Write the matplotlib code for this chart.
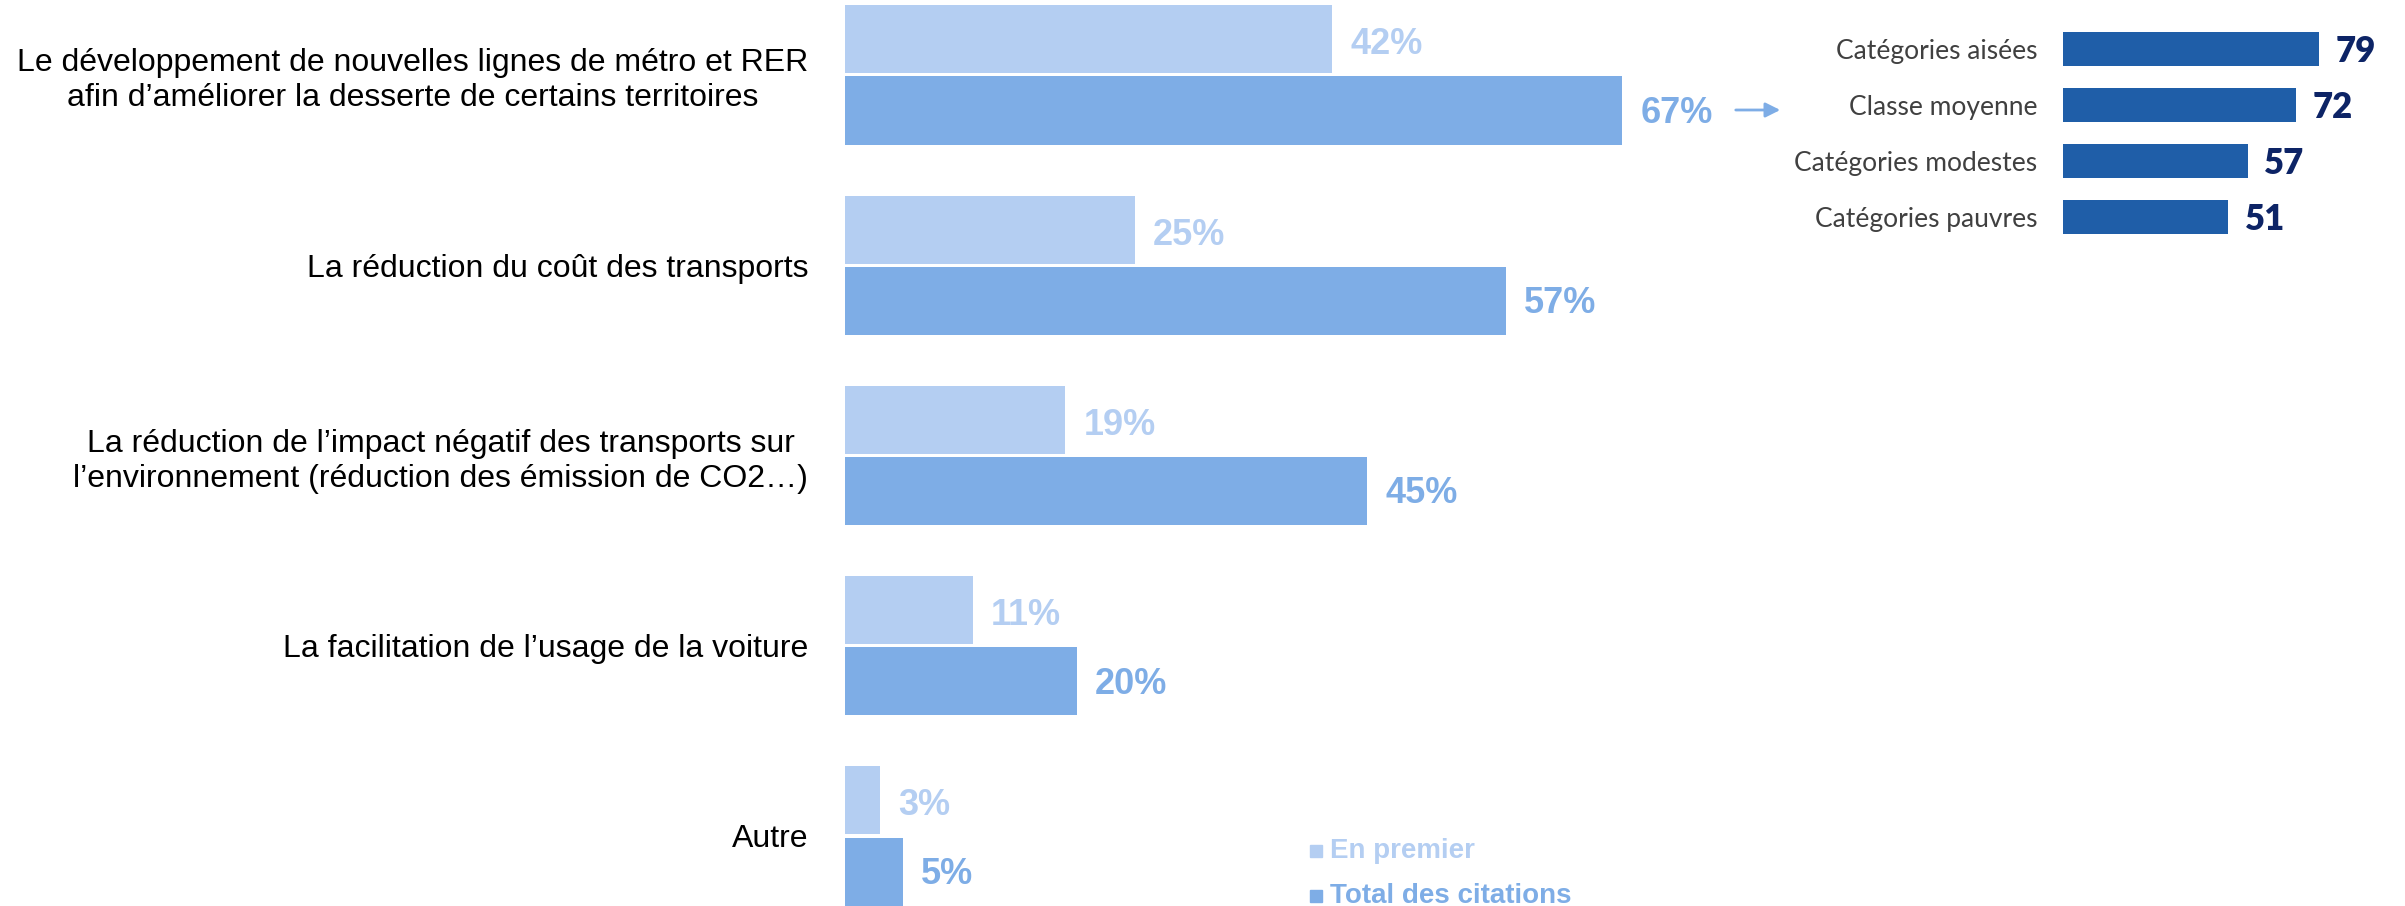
import matplotlib
matplotlib.use("Agg")
import matplotlib.pyplot as plt
from matplotlib.patches import Rectangle

# data
categories = [
    "Le développement de nouvelles lignes de métro et RER\nafin d’améliorer la desserte de certains territoires",
    "La réduction du coût des transports",
    "La réduction de l’impact négatif des transports sur\nl’environnement (réduction des émission de CO2…)",
    "La facilitation de l’usage de la voiture",
    "Autre",
]
en_premier = [42, 25, 19, 11, 3]
total_citations = [67, 57, 45, 20, 5]

social = ["Catégories aisées", "Classe moyenne", "Catégories modestes", "Catégories pauvres"]
social_values = [79, 72, 57, 51]

light = "#B4CEF2"
dark = "#7EADE6"
inset_blue = "#1F5EA8"
navy = "#0D2466"

W, H = 2405, 906
fig = plt.figure(figsize=(W / 100, H / 100), dpi=100)

# main chart
ax = fig.add_axes([845 / W, 0, 1160 / W, 1])
ax.set_facecolor("none")
y = list(range(len(categories)))
off = 0.187
h = 0.358
ax.barh([i - off for i in y], en_premier, height=h, color=light)
ax.barh([i + off for i in y], total_citations, height=h, color=dark)
for i in y:
    ax.annotate(f"{en_premier[i]}%", (en_premier[i], i - off), xytext=(13, -4),
                textcoords="offset points", va="center", ha="left", color=light,
                fontsize=26, fontweight="bold", family="Liberation Sans")
    ax.annotate(f"{total_citations[i]}%", (total_citations[i], i + off), xytext=(13, -2),
                textcoords="offset points", va="center", ha="left", color=dark,
                fontsize=26, fontweight="bold", family="Liberation Sans")
ax.set_xlim(0, 100)
ax.set_ylim(4.368, -0.394)
ax.set_yticks(y, categories, fontsize=23, family="Liberation Sans")
for lbl in ax.get_yticklabels():
    lbl.set_multialignment("center")
ax.tick_params(axis="y", length=0, pad=26.6)
ax.set_xticks([])
for s in ax.spines.values():
    s.set_visible(False)

# inset chart by social category
ax2 = fig.add_axes([2063 / W, 1 - 300 / H, 324 / W, 300 / H])
ax2.set_facecolor("none")
yi = list(range(len(social)))
ax2.barh(yi, social_values, height=0.6, color=inset_blue)
for i in yi:
    ax2.annotate(str(social_values[i]), (social_values[i], i), xytext=(12, -2),
                 textcoords="offset points", va="center", ha="left", color=navy,
                 fontsize=25, fontweight="heavy", family="Lato")
ax2.set_xlim(0, 100)
ax2.set_ylim(4.482, -0.875)
ax2.set_yticks(yi, social, fontsize=19, family="Lato", color="#404040")
ax2.tick_params(axis="y", length=0, pad=18.7)
ax2.set_xticks([])
for s in ax2.spines.values():
    s.set_visible(False)

# arrow from 67% to the inset
ax.annotate("", xy=(1783 / W, 1 - 110 / H), xytext=(1733 / W, 1 - 110 / H),
            xycoords="figure fraction", textcoords="figure fraction",
            arrowprops=dict(arrowstyle="-|>", color=dark, lw=2, mutation_scale=22))

# legend
for ypix, lab, col in [(851, "En premier", light), (896, "Total des citations", dark)]:
    fig.patches.append(Rectangle((1310 / W, 1 - (ypix + 6) / H), 12 / W, 12 / H,
                                 transform=fig.transFigure, color=col))
    fig.text(1330 / W, 1 - ypix / H, lab, va="center", ha="left", fontsize=20,
             fontweight="bold", color=col, family="Liberation Sans")

fig.savefig("out.png", dpi=100)
